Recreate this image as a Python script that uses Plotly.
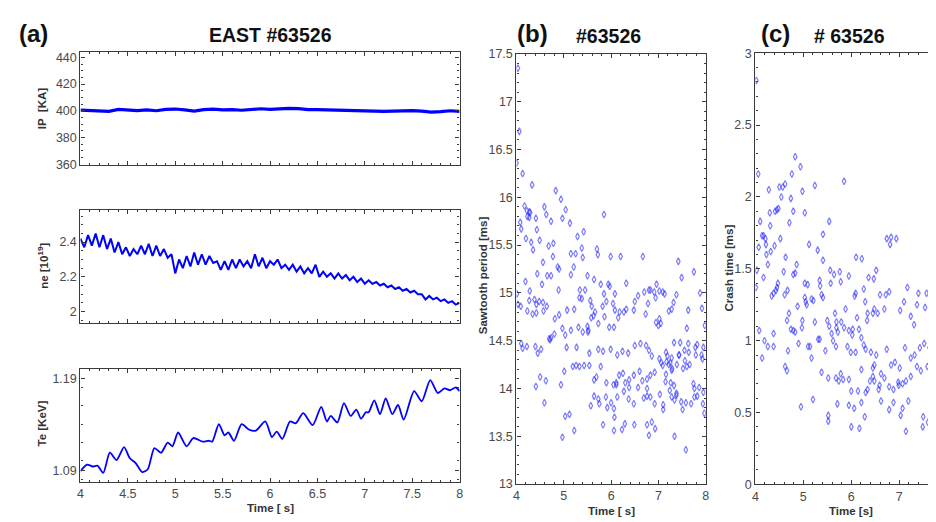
import plotly.graph_objects as go

W, H = 936, 522

# ---------------- data ----------------
ip_time = [4.0, 4.1, 4.2, 4.3, 4.4, 4.5, 4.6, 4.7, 4.8, 4.9, 5.0, 5.1, 5.2, 5.3, 5.4, 5.5, 5.6, 5.7, 5.8, 5.9,
           6.0, 6.1, 6.2, 6.3, 6.4, 6.5, 6.6, 6.7, 6.8, 6.9, 7.0, 7.1, 7.2, 7.3, 7.4, 7.5, 7.6, 7.7, 7.8, 7.9, 8.0]
ip_values = [400.5, 400.3, 400.0, 399.6, 401.0, 400.4, 400.1, 400.6, 400.0, 401.0, 401.3, 400.6, 399.8, 400.9,
             401.2, 400.6, 400.8, 400.4, 401.2, 401.5, 401.0, 401.4, 401.8, 401.6, 400.8, 400.9, 400.6, 400.3,
             400.2, 400.1, 399.8, 399.7, 399.6, 399.8, 399.9, 400.1, 399.7, 399.0, 399.3, 400.0, 399.5]

ne_time = [4.00, 4.04, 4.08, 4.12, 4.16, 4.20, 4.24, 4.28, 4.32, 4.36, 4.40, 4.44, 4.48, 4.52, 4.56, 4.60, 4.64,
           4.68, 4.72, 4.76, 4.80, 4.84, 4.88, 4.92, 4.96, 5.00, 5.04, 5.08, 5.12, 5.16, 5.20, 5.24, 5.28, 5.32,
           5.36, 5.40, 5.44, 5.48, 5.52, 5.56, 5.60, 5.64, 5.68, 5.72, 5.76, 5.80, 5.84, 5.88, 5.92, 5.96, 6.00,
           6.04, 6.08, 6.12, 6.16, 6.20, 6.24, 6.28, 6.32, 6.36, 6.40, 6.44, 6.48, 6.52, 6.56, 6.60, 6.64, 6.68,
           6.72, 6.76, 6.80, 6.84, 6.88, 6.92, 6.96, 7.00, 7.04, 7.08, 7.12, 7.16, 7.20, 7.24, 7.28, 7.32, 7.36,
           7.40, 7.44, 7.48, 7.52, 7.56, 7.60, 7.64, 7.68, 7.72, 7.76, 7.80, 7.84, 7.88, 7.92, 7.96, 8.00]
ne_values = [2.42, 2.37, 2.44, 2.38, 2.45, 2.37, 2.44, 2.36, 2.42, 2.34, 2.40, 2.33, 2.37, 2.32, 2.36, 2.33, 2.38,
             2.33, 2.39, 2.32, 2.38, 2.32, 2.36, 2.31, 2.33, 2.22, 2.30, 2.25, 2.32, 2.26, 2.34, 2.27, 2.33, 2.27,
             2.32, 2.28, 2.29, 2.24, 2.29, 2.24, 2.30, 2.25, 2.30, 2.26, 2.29, 2.25, 2.33, 2.26, 2.31, 2.25, 2.29,
             2.27, 2.30, 2.25, 2.27, 2.24, 2.27, 2.23, 2.26, 2.22, 2.25, 2.22, 2.27, 2.20, 2.23, 2.20, 2.22, 2.19,
             2.22, 2.19, 2.21, 2.18, 2.20, 2.17, 2.19, 2.16, 2.18, 2.16, 2.17, 2.15, 2.16, 2.14, 2.15, 2.13, 2.14,
             2.12, 2.13, 2.11, 2.12, 2.10, 2.10, 2.07, 2.09, 2.07, 2.08, 2.06, 2.07, 2.05, 2.06, 2.04, 2.05]

te_time = [4.00, 4.07, 4.13, 4.18, 4.24, 4.31, 4.38, 4.46, 4.52, 4.58, 4.65, 4.71, 4.78, 4.85, 4.92, 4.97, 5.03,
           5.12, 5.19, 5.29, 5.36, 5.39, 5.46, 5.52, 5.56, 5.62, 5.70, 5.78, 5.85, 5.95, 6.02, 6.07, 6.13, 6.21,
           6.27, 6.35, 6.45, 6.54, 6.60, 6.64, 6.71, 6.78, 6.85, 6.91, 6.96, 7.01, 7.04, 7.10, 7.16, 7.22, 7.29,
           7.35, 7.41, 7.52, 7.60, 7.69, 7.77, 7.84, 7.90, 7.96, 8.00]
te_values = [1.089, 1.096, 1.094, 1.095, 1.087, 1.109, 1.101, 1.115, 1.103, 1.098, 1.088, 1.091, 1.114, 1.109,
             1.120, 1.116, 1.131, 1.116, 1.125, 1.121, 1.122, 1.121, 1.140, 1.128, 1.131, 1.122, 1.140, 1.134,
             1.133, 1.143, 1.126, 1.132, 1.124, 1.143, 1.141, 1.152, 1.139, 1.159, 1.143, 1.149, 1.142, 1.163,
             1.149, 1.156, 1.146, 1.153, 1.153, 1.166, 1.151, 1.168, 1.151, 1.161, 1.145, 1.176, 1.165, 1.188,
             1.174, 1.179, 1.177, 1.180, 1.176]

# (time [s], sawtooth period [ms])
sawtooth_points = [
    (4.03, 17.35), (4.06, 16.69), (4.00, 16.36), (4.13, 16.25), (4.33, 16.13), (4.83, 16.07), (4.94, 15.98),
    (4.59, 15.90), (4.17, 15.91), (4.22, 15.86), (4.27, 15.85), (4.29, 15.84), (5.04, 15.87), (5.85, 15.82),
    (4.63, 15.82), (4.23, 15.80), (4.27, 15.79), (4.41, 15.78), (4.97, 15.78), (4.08, 15.74), (4.73, 15.75),
    (5.13, 15.73), (4.10, 15.67), (4.43, 15.66), (5.42, 15.64), (4.20, 15.57), (4.78, 15.52), (4.31, 15.53),
    (4.49, 15.55), (5.29, 15.59), (4.68, 15.49), (4.35, 15.45), (5.70, 15.46), (5.15, 15.41), (5.25, 15.41),
    (5.38, 15.47), (6.20, 15.38), (6.67, 15.38), (4.56, 15.32), (4.77, 15.38), (4.87, 15.27), (4.90, 15.25),
    (5.21, 15.27), (5.40, 15.37), (5.99, 15.38), (5.72, 15.40), (4.44, 15.20), (4.65, 15.18), (4.73, 15.18),
    (4.19, 15.12), (4.54, 15.09), (5.15, 15.19), (5.50, 15.18), (5.94, 15.09), (6.32, 15.10), (4.89, 15.03),
    (5.34, 15.03), (5.45, 15.03), (5.64, 15.14), (5.78, 15.09), (5.85, 14.99), (5.97, 15.07), (6.08, 14.99),
    (4.01, 14.99), (4.28, 15.02), (4.38, 14.93), (4.42, 14.88), (4.48, 14.91), (4.27, 14.92), (4.09, 14.86),
    (4.03, 14.88), (4.56, 14.90), (4.64, 14.86), (5.07, 14.82), (4.57, 14.81), (4.90, 14.77), (4.81, 14.73),
    (4.42, 14.79), (4.23, 14.81), (4.34, 14.78), (5.22, 14.83), (5.33, 14.95), (5.38, 14.94), (5.56, 14.92),
    (5.59, 14.86), (5.66, 14.80), (5.82, 14.86), (5.90, 14.91), (6.04, 14.89), (6.08, 14.82), (6.18, 14.80),
    (6.27, 14.80), (6.50, 14.91), (6.57, 14.97), (6.80, 15.03), (6.83, 15.03), (6.91, 15.01), (6.94, 14.95),
    (6.78, 14.89), (6.73, 14.78), (6.48, 14.82), (6.32, 14.83), (6.15, 14.74), (6.06, 14.64), (5.96, 14.64),
    (5.86, 14.75), (5.73, 14.68), (5.63, 14.76), (5.58, 14.74), (5.50, 14.65), (5.52, 14.61), (5.51, 14.59),
    (5.40, 14.59), (5.31, 14.64), (5.15, 14.61), (4.97, 14.63), (5.03, 14.56), (4.80, 14.57), (4.73, 14.53),
    (4.69, 14.52), (4.71, 14.51), (4.52, 14.41), (4.40, 14.44), (4.22, 14.44), (4.10, 14.47), (4.13, 14.42),
    (4.45, 14.37), (5.06, 14.43), (5.27, 14.43), (5.54, 14.37), (5.73, 14.41), (5.83, 14.39), (5.99, 14.41),
    (6.13, 14.35), (6.24, 14.39), (6.36, 14.37), (6.50, 14.45), (6.62, 14.47), (6.74, 14.45), (6.80, 14.40),
    (6.86, 14.34), (7.02, 14.31), (7.06, 14.27), (7.17, 14.28), (7.22, 14.25), (7.29, 14.21), (7.44, 14.35),
    (7.55, 14.40), (7.64, 14.38), (7.79, 14.35), (7.91, 14.35), (7.93, 14.31), (7.16, 14.38), (7.28, 14.32),
    (7.33, 14.48), (7.60, 14.23), (7.66, 14.25), (7.28, 14.19), (7.16, 14.15), (7.09, 14.24), (6.92, 14.17),
    (6.83, 14.14), (6.76, 14.10), (6.66, 14.08), (6.60, 14.18), (6.48, 14.14), (6.38, 14.09), (6.25, 14.16),
    (6.17, 14.14), (6.11, 14.04), (6.05, 14.04), (5.90, 14.06), (5.78, 14.23), (5.69, 14.12), (5.64, 14.09),
    (5.54, 14.24), (5.43, 14.24), (5.33, 14.23), (5.26, 14.24), (5.19, 14.23), (5.01, 14.18), (4.94, 14.04),
    (4.62, 14.08), (4.50, 14.12), (4.41, 14.02), (4.59, 13.85), (5.03, 13.71), (5.12, 13.73), (5.57, 13.82),
    (5.64, 13.92), (5.73, 13.89), (5.75, 13.84), (5.89, 13.91), (5.92, 13.80), (6.00, 13.85), (6.13, 13.91),
    (6.27, 13.97), (6.38, 14.01), (6.48, 13.84), (6.76, 13.92), (6.83, 13.91), (6.92, 13.84), (7.03, 13.94),
    (7.10, 13.83), (7.24, 13.98), (7.28, 13.91), (7.34, 13.88), (7.38, 13.93), (7.48, 13.86), (7.58, 13.85),
    (7.69, 13.84), (7.76, 13.91), (7.86, 14.01), (7.94, 13.84), (6.07, 13.70), (6.29, 13.63), (6.49, 13.62),
    (6.76, 13.62), (6.86, 13.65), (6.93, 13.58), (7.10, 13.78), (7.34, 13.50), (7.58, 13.36), (6.80, 13.51),
    (6.06, 13.56), (5.83, 13.62), (5.22, 13.56), (4.97, 13.49), (7.51, 13.78), (7.97, 13.74),
    (6.96, 15.09), (7.02, 15.02), (7.09, 15.01), (7.13, 14.99), (7.38, 14.98), (7.42, 15.33), (7.49, 15.16),
    (7.75, 15.22), (7.88, 15.00), (6.70, 15.01), (7.32, 14.90), (7.22, 14.81), (7.63, 14.82), (7.92, 14.84),
    (7.28, 14.83), (7.60, 14.63), (7.63, 14.47), (7.46, 14.48), (7.98, 14.66), (7.82, 14.46), (7.78, 14.43),
    (7.95, 14.43), (7.19, 14.34), (7.25, 14.27), (7.43, 14.35), (7.56, 14.29), (7.52, 14.21), (7.39, 14.25),
    (7.15, 14.07), (7.26, 14.06), (7.33, 14.03), (7.38, 13.95), (6.69, 13.90), (6.76, 14.00), (6.57, 14.01),
    (6.37, 13.89), (6.06, 13.79), (6.23, 13.57), (6.11, 14.06), (6.30, 14.06), (7.76, 14.00), (7.82, 13.92),
    (7.95, 13.96), (7.74, 14.05), (6.95, 14.69), (7.02, 14.73), (7.05, 14.68), (7.00, 14.66),
]

# (time [s], crash time [ms])
crash_points = [
    (4.02, 2.81), (4.06, 2.16), (4.03, 1.49), (4.01, 1.37), (4.83, 2.28), (4.94, 2.21), (4.76, 2.16),
    (4.28, 2.05), (4.62, 2.09), (4.57, 2.07), (4.50, 2.07), (4.98, 2.04), (5.24, 2.08), (5.85, 2.11),
    (4.54, 2.00), (4.45, 1.91), (4.41, 1.90), (4.48, 1.92), (4.74, 1.99), (5.03, 1.89), (4.30, 1.89),
    (4.79, 1.90), (4.31, 1.80), (4.10, 1.83), (4.14, 1.73), (4.17, 1.73), (4.21, 1.71), (4.07, 1.65),
    (4.22, 1.67), (4.71, 1.82), (5.12, 1.67), (5.54, 1.83), (5.41, 1.74), (5.30, 1.63), (4.52, 1.71),
    (4.40, 1.66), (4.23, 1.60), (4.32, 1.62), (4.26, 1.53), (4.63, 1.58), (4.59, 1.48), (4.79, 1.46),
    (4.83, 1.47), (4.86, 1.53), (5.03, 1.40), (5.09, 1.39), (4.47, 1.40), (4.45, 1.37), (4.43, 1.35),
    (4.38, 1.33), (4.34, 1.31), (4.17, 1.44), (4.67, 1.35), (4.61, 1.32), (5.03, 1.30), (5.05, 1.27),
    (5.07, 1.25), (4.88, 1.24), (5.17, 1.29), (5.21, 1.28), (5.41, 1.56), (5.34, 1.42), (5.35, 1.38),
    (5.38, 1.32), (5.41, 1.30), (5.56, 1.49), (5.57, 1.40), (5.64, 1.46), (5.76, 1.48), (5.78, 1.41),
    (5.95, 1.45), (6.10, 1.58), (6.22, 1.57), (6.36, 1.44), (6.52, 1.49), (6.47, 1.43), (6.26, 1.36),
    (6.09, 1.33), (6.07, 1.31), (6.29, 1.27), (6.12, 1.16), (6.48, 1.22), (6.60, 1.32), (6.72, 1.32),
    (6.79, 1.34), (6.74, 1.71), (6.83, 1.72), (6.94, 1.71), (6.81, 1.67), (7.17, 1.37), (7.40, 1.33),
    (7.57, 1.33), (7.37, 1.25), (7.54, 1.23), (7.69, 1.16), (7.72, 1.14), (7.83, 1.16), (7.10, 1.27),
    (7.24, 1.17), (7.31, 1.11), (7.02, 1.21), (6.69, 1.22), (6.55, 1.19), (6.45, 1.19), (6.34, 1.19),
    (6.33, 1.14), (6.16, 1.08), (6.03, 1.08), (5.95, 1.07), (6.02, 1.04), (5.85, 1.09), (5.69, 1.09),
    (5.72, 1.06), (5.62, 1.00), (5.68, 0.96), (5.59, 1.05), (5.54, 1.10), (5.50, 1.14), (5.66, 1.19),
    (5.69, 1.13), (5.79, 1.13), (5.88, 1.22), (5.92, 0.96), (5.99, 0.92), (6.09, 0.92), (6.21, 1.02),
    (6.26, 0.97), (6.30, 0.94), (6.41, 0.92), (6.48, 0.83), (6.45, 0.81), (6.52, 0.90), (6.62, 0.77),
    (6.74, 0.94), (6.83, 0.83), (6.91, 0.85), (7.01, 0.81), (7.12, 0.95), (7.24, 0.88), (7.32, 0.90),
    (7.43, 0.95), (7.52, 0.98), (7.63, 0.95), (7.71, 0.90), (7.59, 0.82), (7.45, 0.79), (7.37, 0.82),
    (7.24, 0.75), (7.14, 0.72), (7.07, 0.70), (6.98, 0.71), (6.88, 0.66), (6.99, 0.69), (6.79, 0.68),
    (6.69, 0.74), (6.59, 0.69), (6.57, 0.66), (6.48, 0.72), (6.45, 0.75), (6.39, 0.72), (6.34, 0.66),
    (6.30, 0.64), (6.21, 0.80), (6.14, 0.65), (6.00, 0.65), (5.95, 0.73), (5.83, 0.73), (5.78, 0.77),
    (5.74, 0.72), (5.68, 0.74), (5.52, 0.74), (5.38, 0.78), (5.20, 0.59), (4.95, 0.54), (4.62, 0.82),
    (4.66, 0.79), (4.14, 0.88), (4.08, 1.07), (4.19, 1.00), (4.26, 0.96), (4.38, 0.96), (4.38, 1.05),
    (4.68, 0.93), (4.66, 1.14), (4.70, 1.19), (4.74, 1.08), (4.79, 1.07), (4.83, 1.06), (4.90, 0.98),
    (4.97, 1.09), (4.98, 1.14), (5.10, 0.96), (5.14, 0.96), (5.17, 0.88), (5.31, 1.01), (5.34, 1.01),
    (5.24, 1.13), (5.46, 0.93), (5.52, 0.48), (5.52, 0.44), (5.71, 0.56), (5.95, 0.55), (6.00, 0.40),
    (6.06, 0.53), (6.17, 0.39), (6.21, 0.57), (6.28, 0.47), (6.62, 0.58), (6.79, 0.52), (6.88, 0.57),
    (7.03, 0.48), (7.07, 0.53), (7.14, 0.37), (7.19, 0.58), (7.50, 0.47), (7.49, 0.40), (7.60, 0.43),
    (7.64, 0.46), (7.72, 0.37), (7.72, 0.58), (7.79, 0.66), (7.83, 0.75), (7.82, 1.05), (7.84, 0.71),
    (7.81, 0.37),
]

# ---------------- helpers (layout only) ----------------
def fx(px):
    return px / W

def fy(py):
    return 1 - py / H

FONT = "Arial, Liberation Sans, sans-serif"
BLUE = "#0000ff"
FRAME = "#3a3a3a"
TICKFONT = dict(family=FONT, size=12.5, color="#4a4a4a")

def axis(domain, rng, dtick, minor_dtick, showlabels=True, mirror="allticks", anchor=None, tickvals=None):
    d = dict(
        domain=domain, range=rng, showline=True, linecolor=FRAME, linewidth=1.4,
        mirror=mirror, ticks="inside", ticklen=4, tickwidth=1, tickcolor=FRAME,
        showgrid=False, zeroline=False, showticklabels=showlabels, tickfont=TICKFONT,
        minor=dict(ticks="inside", ticklen=2, tickwidth=1, tickcolor=FRAME, dtick=minor_dtick, showgrid=False),
        fixedrange=True,
    )
    if tickvals is not None:
        d["tickvals"] = tickvals
    else:
        d["dtick"] = dtick
    if anchor:
        d["anchor"] = anchor
    return d

fig = go.Figure()

fig.add_trace(go.Scatter(x=ip_time, y=ip_values, mode="lines", line=dict(color=BLUE, width=3.2),
                         xaxis="x", yaxis="y", showlegend=False))
fig.add_trace(go.Scatter(x=ne_time, y=ne_values, mode="lines", line=dict(color=BLUE, width=2),
                         xaxis="x2", yaxis="y2", showlegend=False))
fig.add_trace(go.Scatter(x=te_time, y=te_values, mode="lines",
                         line=dict(color=BLUE, width=1.8, shape="spline", smoothing=0.7),
                         xaxis="x3", yaxis="y3", showlegend=False))

saw_t = [p[0] for p in sawtooth_points]
saw_v = [p[1] for p in sawtooth_points]
crash_t = [p[0] for p in crash_points]
crash_v = [p[1] for p in crash_points]

marker = dict(symbol="diamond-tall-open", size=5, color="rgba(40,40,255,0.6)", line=dict(width=1.2))
fig.add_trace(go.Scatter(x=saw_t, y=saw_v, mode="markers", marker=marker, xaxis="x4", yaxis="y4",
                         showlegend=False, cliponaxis=True))
fig.add_trace(go.Scatter(x=crash_t, y=crash_v, mode="markers", marker=marker, xaxis="x5", yaxis="y5",
                         showlegend=False, cliponaxis=True))

# panel geometry (pixels)
ax_l, ax_r = 70, 452
a1 = (38, 154)
a2 = (200, 316.7)
a3 = (363.3, 480)
b_l, b_r = 509.3, 700
c_l = 750
pb_top, pb_bot = 40, 482

fig.update_layout(
    width=W, height=H, margin=dict(l=0, r=0, t=0, b=0),
    paper_bgcolor="white", plot_bgcolor="white",
    xaxis=axis([fx(ax_l), fx(ax_r)], [4, 8], 0.5, 0.1, showlabels=False, anchor="y"),
    yaxis=axis([fy(a1[1]), fy(a1[0])], [359.5, 444], 20, 5, anchor="x"),
    xaxis2=axis([fx(ax_l), fx(ax_r)], [4, 8], 0.5, 0.1, showlabels=False, anchor="y2"),
    yaxis2=axis([fy(a2[1]), fy(a2[0])], [1.933, 2.587], 0.2, 0.05, anchor="x2"),
    xaxis3=axis([fx(ax_l), fx(ax_r)], [4, 8], 0.5, 0.1, anchor="y3"),
    yaxis3=axis([fy(a3[1]), fy(a3[0])], [1.077, 1.2006], 0.1, 0.02, anchor="x3", tickvals=[1.09, 1.19]),
    xaxis4=axis([fx(b_l), fx(b_r)], [4, 8], 1, 0.2, anchor="y4"),
    yaxis4=axis([fy(pb_bot), fy(pb_top)], [13, 17.5], 0.5, 0.1, anchor="x4"),
    xaxis5=axis([fx(c_l), 1.0], [4, 7.85], 1, 0.2, anchor="y5"),
    yaxis5=axis([fy(482.3), fy(39.3)], [0, 3], 0.5, 0.1, anchor="x5", mirror=False),
)
fig.layout.yaxis3.ticktext = ["1.09", "1.19"]

TITLE_COL = "#111111"
LABEL_COL = "#333333"
ann = []

def text(x, y, s, size, bold=True, angle=0, color=TITLE_COL, xanchor="center"):
    ann.append(dict(x=fx(x), y=fy(y), xref="paper", yref="paper", text=f"<b>{s}</b>" if bold else s,
                    showarrow=False, textangle=angle, xanchor=xanchor, yanchor="middle",
                    font=dict(family=FONT, size=size, color=color)))

text(6, 19, "(a)", 24, xanchor="left")
text(261, 21, "EAST #63526", 19.5)
text(508, 19, "(b)", 24, xanchor="left")
text(602, 22, "#63526", 19.5)
text(754, 19, "(c)", 24, xanchor="left")
text(845, 22, "# 63526", 19.5)

text(32, 96, "IP  [KA]", 11.5, angle=-90, color=LABEL_COL)
text(32, 258, "ne [10<sup>19</sup>]", 11.5, angle=-90, color=LABEL_COL)
text(31, 420, "Te [KeV]", 11.5, angle=-90, color=LABEL_COL)
text(261, 507, "Time [ s]", 11.5, color=LABEL_COL)
text(475, 267, "Sawtooth period [ms]", 11.5, angle=-90, color=LABEL_COL)
text(605, 510, "Time [ s]", 11.5, color=LABEL_COL)
text(723, 260, "Crash time [ms]", 11.5, angle=-90, color=LABEL_COL)
text(846, 510, "Time [s]", 11.5, color=LABEL_COL)

fig.update_layout(annotations=ann)

fig.write_html("out.html")
